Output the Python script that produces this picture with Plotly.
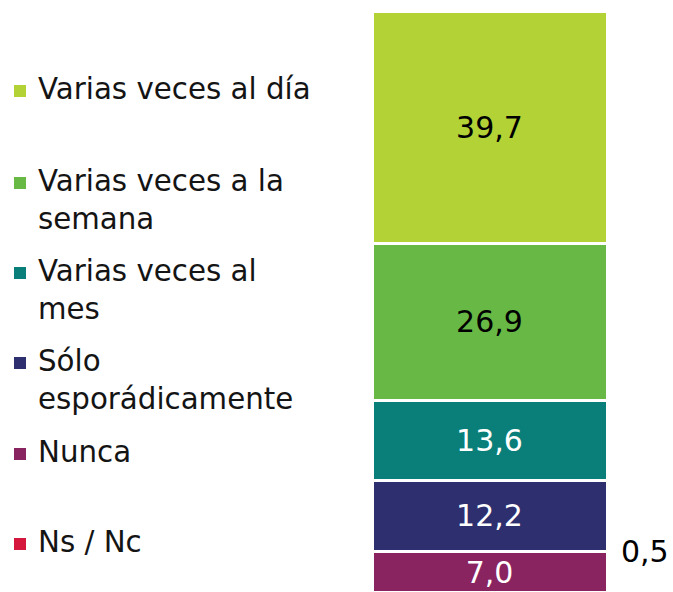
import plotly.graph_objects as go

categories = ["Ns / Nc", "Nunca", "Sólo esporádicamente", "Varias veces al mes",
              "Varias veces a la semana", "Varias veces al día"]
legend_labels = ["Ns / Nc", "Nunca", "Sólo<br>esporádicamente", "Varias veces al<br>mes",
                 "Varias veces a la<br>semana", "Varias veces al día"]
values = [0.5, 7.0, 12.2, 13.6, 26.9, 39.7]
colors = ["#D5173E", "#8A2460", "#2E2F6E", "#0A7F7A", "#67B845", "#B2D236"]
text_colors = ["white", "white", "white", "white", "black", "black"]

W, H = 673, 592
ML, MR, MT, MB = 372, 66, 11, 0
PW, PH = W - ML - MR, H - MT - MB

def px_to_paper(xp, yp):
    return (xp - ML) / PW, (H - MB - yp) / PH

fig = go.Figure()
for i, (cat, v, c, tc) in enumerate(zip(categories, values, colors, text_colors)):
    fig.add_trace(go.Bar(
        x=[0], y=[v], name=cat, width=1,
        marker=dict(color=c, line=dict(color="white", width=3)),
        texttemplate="%{y:.1f}",
        textposition="none" if i == 0 else "inside",
        insidetextanchor="middle",
        constraintext="none",
        textfont=dict(family="DejaVu Sans", size=30, color=tc),
        showlegend=False,
        hoverinfo="skip",
    ))

# label for the tiny Ns/Nc segment
fig.add_annotation(x=0.5, y=values[0] + values[1], xref="x", yref="y",
                   text=f"{values[0]:.1f}".replace(".", ","), showarrow=False,
                   xanchor="left", yanchor="middle", xshift=12,
                   font=dict(family="DejaVu Sans", size=30, color="black"))

# custom legend (left side)
first_line_y = [543, 453, 362, 272, 182, 90]
for lab, c, yc in zip(legend_labels, colors, first_line_y):
    px, py = px_to_paper(36, yc - 20)
    fig.add_annotation(x=px, y=py, xref="paper", yref="paper", text=lab,
                       showarrow=False, xanchor="left", yanchor="top", align="left",
                       font=dict(family="DejaVu Sans", size=29.3, color="#141414"))
    x0, y0 = px_to_paper(14, yc + 7)
    x1, y1 = px_to_paper(26, yc - 5)
    fig.add_shape(type="rect", xref="paper", yref="paper", x0=x0, x1=x1, y0=y0, y1=y1,
                  fillcolor=c, line=dict(width=0))

fig.update_layout(
    barmode="stack", width=W, height=H,
    margin=dict(l=ML, r=MR, t=MT, b=MB),
    paper_bgcolor="white", plot_bgcolor="white",
    separators=",.",
    xaxis=dict(range=[-0.5, 0.5], visible=False),
    yaxis=dict(range=[0.6, 99.9], visible=False),
    showlegend=False,
)
fig.write_html("out.html", config={"displayModeBar": False},
               post_script="document.body.style.margin='0';document.body.style.overflow='hidden';")
